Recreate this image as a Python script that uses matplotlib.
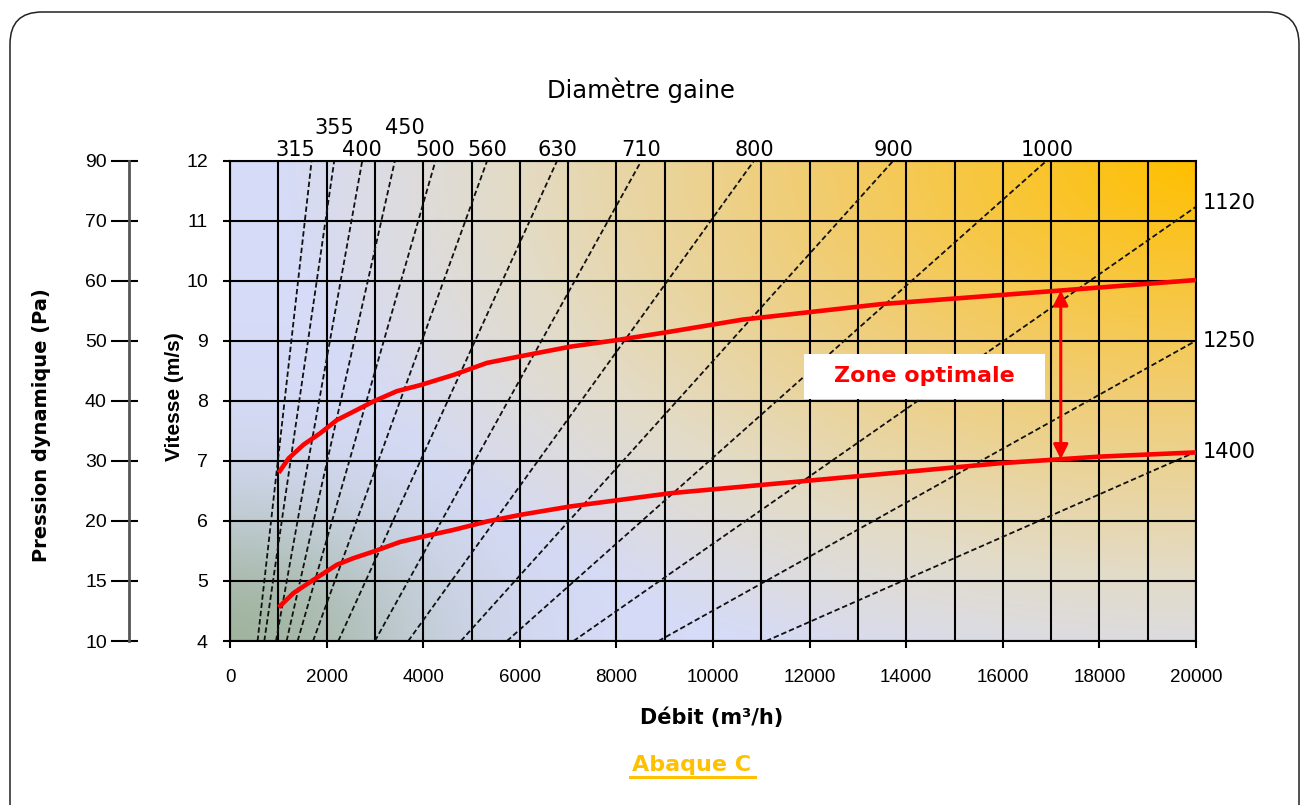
import numpy as np
import matplotlib
matplotlib.use("Agg")
import matplotlib.pyplot as plt
from matplotlib.colors import LinearSegmentedColormap
from matplotlib.patches import FancyBboxPatch, Rectangle
from matplotlib.transforms import IdentityTransform
from matplotlib import font_manager

vitesses = [4, 5, 6, 7, 8, 9, 10, 11, 12]
pressions = [10, 15, 20, 30, 40, 50, 60, 70, 90]
debits_ticks = [0, 2000, 4000, 6000, 8000, 10000, 12000, 14000, 16000, 18000, 20000]

diametres = [315, 355, 400, 450, 500, 560, 630, 710, 800, 900, 1000, 1120, 1250, 1400]
# débit au bas du graphe (v = 4 m/s)
debit_bas = [571, 710, 952, 1172, 1400, 1720, 2242, 3000, 3690, 4780, 5734, 7113, 8872, 11100]
# point haut de chaque droite (sortie en haut ou à droite)
debit_haut = [1690, 2159, 2739, 3415, 4256, 5326, 6775, 8520, 10853, 13737, 16912, 20000, 20000, 20000]
vitesse_haut = [12, 12, 12, 12, 12, 12, 12, 12, 12, 12, 12, 11.23, 9.0, 7.15]

# courbes limites de la zone optimale
haut_debit = [1006, 1213, 1524, 1869, 2215, 2559, 2973, 3457, 3939, 4629, 5320, 6009,
              7044, 8011, 9114, 10605, 13493, 17106, 20000]
haut_vitesse = [6.80, 7.04, 7.27, 7.46, 7.68, 7.82, 7.99, 8.16, 8.26, 8.43, 8.63, 8.74,
                8.90, 9.01, 9.15, 9.35, 9.61, 9.83, 10.01]
bas_debit = [1006, 1317, 1731, 2215, 2559, 2973, 3525, 4008, 4629, 5320, 6009, 7044,
             8080, 9114, 11984, 14046, 15950, 18011, 20000]
bas_vitesse = [4.56, 4.80, 5.02, 5.27, 5.38, 5.49, 5.65, 5.74, 5.85, 5.99, 6.10, 6.24,
               6.35, 6.46, 6.67, 6.82, 6.96, 7.07, 7.14]

debit_fleche = 17200

plt.rcParams['font.family'] = ['DejaVu Sans']
names = {f.name for f in font_manager.fontManager.ttflist}
narrow = 'Liberation Sans Narrow' if 'Liberation Sans Narrow' in names else 'Liberation Sans'

W, H = 1302, 805
fig = plt.figure(figsize=(W / 100, H / 100), dpi=100)


def fx(px):
    return px / W


def fy(py):
    return 1 - py / H


ax = fig.add_axes([fx(230), fy(641), fx(1196) - fx(230), fy(160.5) - fy(641)])

# fond dégradé bleu -> orange, tache verte en bas à gauche
nx, ny = 400, 200
xx, yy = np.meshgrid(np.linspace(0, 1, nx), np.linspace(0, 1, ny))
t = np.clip(1 - np.sqrt(((1 - xx) / 0.95) ** 2 + ((1 - yy) / 1.15) ** 2), 0, 1)
cmap = LinearSegmentedColormap.from_list(
    "fond", [(0, (0.84, 0.86, 0.97)), (0.25, (0.89, 0.86, 0.78)),
             (0.6, (0.95, 0.80, 0.42)), (1, (1.0, 0.75, 0.0))])
rgb = cmap(t)[..., :3]
g = np.exp(-((xx / 0.2) ** 2 + (yy / 0.28) ** 2)) * 0.8
vert = np.array([0.58, 0.67, 0.54])
rgb = rgb * (1 - g[..., None]) + vert * g[..., None]
ax.imshow(rgb, origin='lower', extent=[0, 20000, 4, 12], aspect='auto',
          interpolation='bilinear', zorder=0)

ax.set_xlim(0, 20000)
ax.set_ylim(4, 12)
ax.set_xticks(debits_ticks)
ax.set_xticklabels([str(d) for d in debits_ticks])
ax.set_xticks(np.arange(0, 20001, 1000), minor=True)
ax.set_yticks(vitesses)
ax.set_yticklabels([str(v) for v in vitesses])
ax.grid(which='both', color='black', lw=1.5, zorder=1)
ax.tick_params(which='minor', length=0)
ax.tick_params(axis='x', which='major', length=5, width=1.5, pad=15, labelsize=13.5)
ax.tick_params(axis='y', which='major', length=5, width=1.5, pad=11, labelsize=14)
for s in ax.spines.values():
    s.set_linewidth(1.5)
for lbl in ax.get_xticklabels() + ax.get_yticklabels():
    lbl.set_fontfamily('Liberation Sans')

# droites des diamètres
for i, d in enumerate(diametres):
    ax.plot([debit_bas[i], debit_haut[i]], [4, vitesse_haut[i]], color='#111111',
            lw=1.3, ls=(0, (3, 1.6)), zorder=2)

nudge = {315: (-12, 3), 355: (0, 19), 450: (7, 19)}
for i, d in enumerate(diametres[:11]):
    dx, dy = nudge.get(d, (0, 3))
    ax.annotate(str(d), xy=(debit_haut[i], 12), xytext=(dx, dy), textcoords='offset points',
                ha='center', va='baseline', fontsize=15, annotation_clip=False)
for i, d in enumerate(diametres[11:], start=11):
    ax.annotate(str(d), xy=(20000, vitesse_haut[i]), xytext=(5, 3 if d == 1120 else 0),
                textcoords='offset points', ha='left', va='center', fontsize=15,
                annotation_clip=False)

# zone optimale
ax.plot(haut_debit, haut_vitesse, color='#ff0000', lw=3.3, zorder=4, solid_capstyle='butt')
ax.plot(bas_debit, bas_vitesse, color='#ff0000', lw=3.3, zorder=4, solid_capstyle='butt')
y_haut = np.interp(debit_fleche, haut_debit, haut_vitesse)
y_bas = np.interp(debit_fleche, bas_debit, bas_vitesse)
ax.annotate('', xy=(debit_fleche, y_haut), xytext=(debit_fleche, y_bas),
            arrowprops=dict(arrowstyle='<|-|>', color='#ff0000', lw=2.2,
                            mutation_scale=22, shrinkA=0, shrinkB=0), zorder=5)
ax.add_patch(Rectangle((11880, 8.03), 5000, 0.75, facecolor='white', edgecolor='none', zorder=5))
ax.text(14380, 8.41, 'Zone optimale', color='#ff0000', fontsize=16, fontweight='bold',
        ha='center', va='center', zorder=6)

# axe des pressions dynamiques
ax2 = fig.add_axes([fx(129), fy(641), fx(138) - fx(129), fy(160.5) - fy(641)])
ax2.set_ylim(4, 12)
ax2.set_xlim(0, 1)
ax2.patch.set_visible(False)
for k in ['top', 'right', 'bottom']:
    ax2.spines[k].set_visible(False)
ax2.spines['left'].set_color('#555555')
ax2.spines['left'].set_linewidth(2)
ax2.set_xticks([])
ax2.set_yticks(vitesses)
ax2.set_yticklabels([str(p) for p in pressions])
ax2.tick_params(axis='y', direction='out', length=13, width=1.5, pad=3, labelsize=14)
for lbl in ax2.get_yticklabels():
    lbl.set_fontfamily('Liberation Sans')
ax2.hlines(vitesses, 0, 1, color='black', lw=1.5, clip_on=False)

# textes
fig.text(fx(641), fy(90), 'Diamètre gaine', ha='center', va='center', fontsize=17.5)
fig.text(fx(175), fy(397), 'Vitesse (m/s)', rotation=90, ha='center', va='center',
         fontsize=15, fontweight='bold', family=[narrow, 'DejaVu Sans'])
fig.text(fx(42), fy(425), 'Pression dynamique (Pa)', rotation=90, ha='center', va='center',
         fontsize=14, fontweight='bold')
fig.text(fx(712), fy(718), 'Débit (m³/h)', ha='center', va='center', fontsize=15,
         fontweight='bold')
fig.text(fx(692), fy(765), 'Abaque C', ha='center', va='center', fontsize=16,
         fontweight='bold', color='#ffc000')
fig.add_artist(plt.Line2D([fx(630), fx(755)], [fy(777), fy(777)], color='#ffc000', lw=2.2))

# cadre arrondi
cadre = FancyBboxPatch((10, -80), 1289, 805 - 12 + 80, boxstyle='round,pad=0,rounding_size=32',
                       transform=IdentityTransform(), facecolor='none', edgecolor='#222222',
                       lw=1.1)
fig.add_artist(cadre)

fig.savefig('out.png', dpi=100)
